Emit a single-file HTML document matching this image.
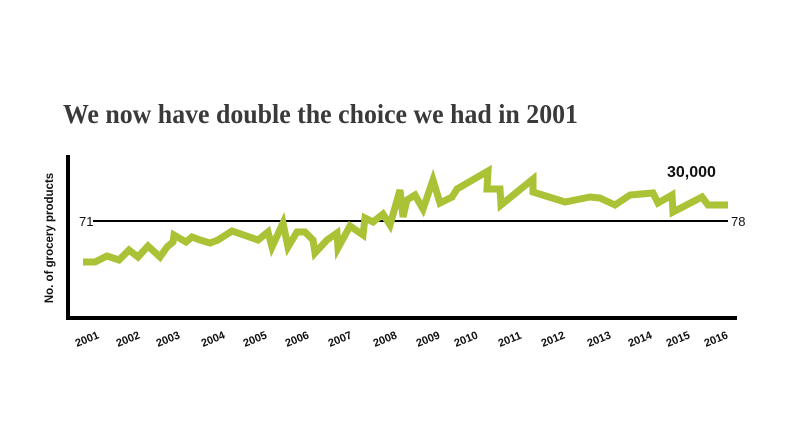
<!DOCTYPE html>
<html><head><meta charset="utf-8"><style>
body{margin:0;background:#fff;width:800px;height:441px;overflow:hidden}
</style></head><body>
<svg width="800" height="441" xmlns="http://www.w3.org/2000/svg">
<text x="63" y="123" font-family="Liberation Serif" font-weight="bold" font-size="27" fill="#3a3a3a" textLength="515" lengthAdjust="spacingAndGlyphs">We now have double the choice we had in 2001</text>
<text x="53" y="238" transform="rotate(-90 53 238)" text-anchor="middle" font-family="Liberation Sans" font-weight="bold" font-size="11.5" fill="#111">No. of grocery products</text>
<line x1="68" y1="155" x2="68" y2="320" stroke="#000" stroke-width="4"/>
<line x1="66" y1="318" x2="737" y2="318" stroke="#000" stroke-width="4"/>
<line x1="93" y1="221" x2="728" y2="221" stroke="#000" stroke-width="2"/>
<text x="79" y="226" font-family="Liberation Sans" font-size="13" fill="#111">71</text>
<text x="731" y="226" font-family="Liberation Sans" font-size="13" fill="#111">78</text>
<text x="667" y="177" font-family="Liberation Sans" font-weight="bold" font-size="16" fill="#111">30,000</text>
<polyline fill="none" stroke="#aac235" stroke-width="7" stroke-linejoin="miter" points="83,262 95,262 107,256 119,260 129,250 138,257 148,246 160,257 167,247 173,242 174,235 186,242 192,237 200,240 210,243 218,240 232,231 258,240 268,232 272,247 283,223 288,247 297,232 305,232 313,240 315,253 327,240 337,233 338,248 350,226 363,235 365,218 373,222 383,214 390,225 400,190 403,217 407,200 415,195 423,209 433,180 440,203 452,197 457,189 488,171 487,189 500,189 501,205 533,179 533,192 565,202 590,197 600,198 615,205 630,195 653,193 658,203 672,195 673,212 702,197 708,205 728,205"/>
<g font-family="Liberation Sans" font-weight="bold" font-size="11" fill="#111">
<text transform="translate(77,347) rotate(-22)">2001</text>
<text transform="translate(118,347) rotate(-22)">2002</text>
<text transform="translate(158,347) rotate(-22)">2003</text>
<text transform="translate(203,347) rotate(-22)">2004</text>
<text transform="translate(245,347) rotate(-22)">2005</text>
<text transform="translate(287,347) rotate(-22)">2006</text>
<text transform="translate(330,347) rotate(-22)">2007</text>
<text transform="translate(375,347) rotate(-22)">2008</text>
<text transform="translate(418,347) rotate(-22)">2009</text>
<text transform="translate(456,347) rotate(-22)">2010</text>
<text transform="translate(500,347) rotate(-22)">2011</text>
<text transform="translate(543,347) rotate(-22)">2012</text>
<text transform="translate(589,347) rotate(-22)">2013</text>
<text transform="translate(630,347) rotate(-22)">2014</text>
<text transform="translate(668,347) rotate(-22)">2015</text>
<text transform="translate(706,347) rotate(-22)">2016</text>
</g>
</svg>
</body></html>
